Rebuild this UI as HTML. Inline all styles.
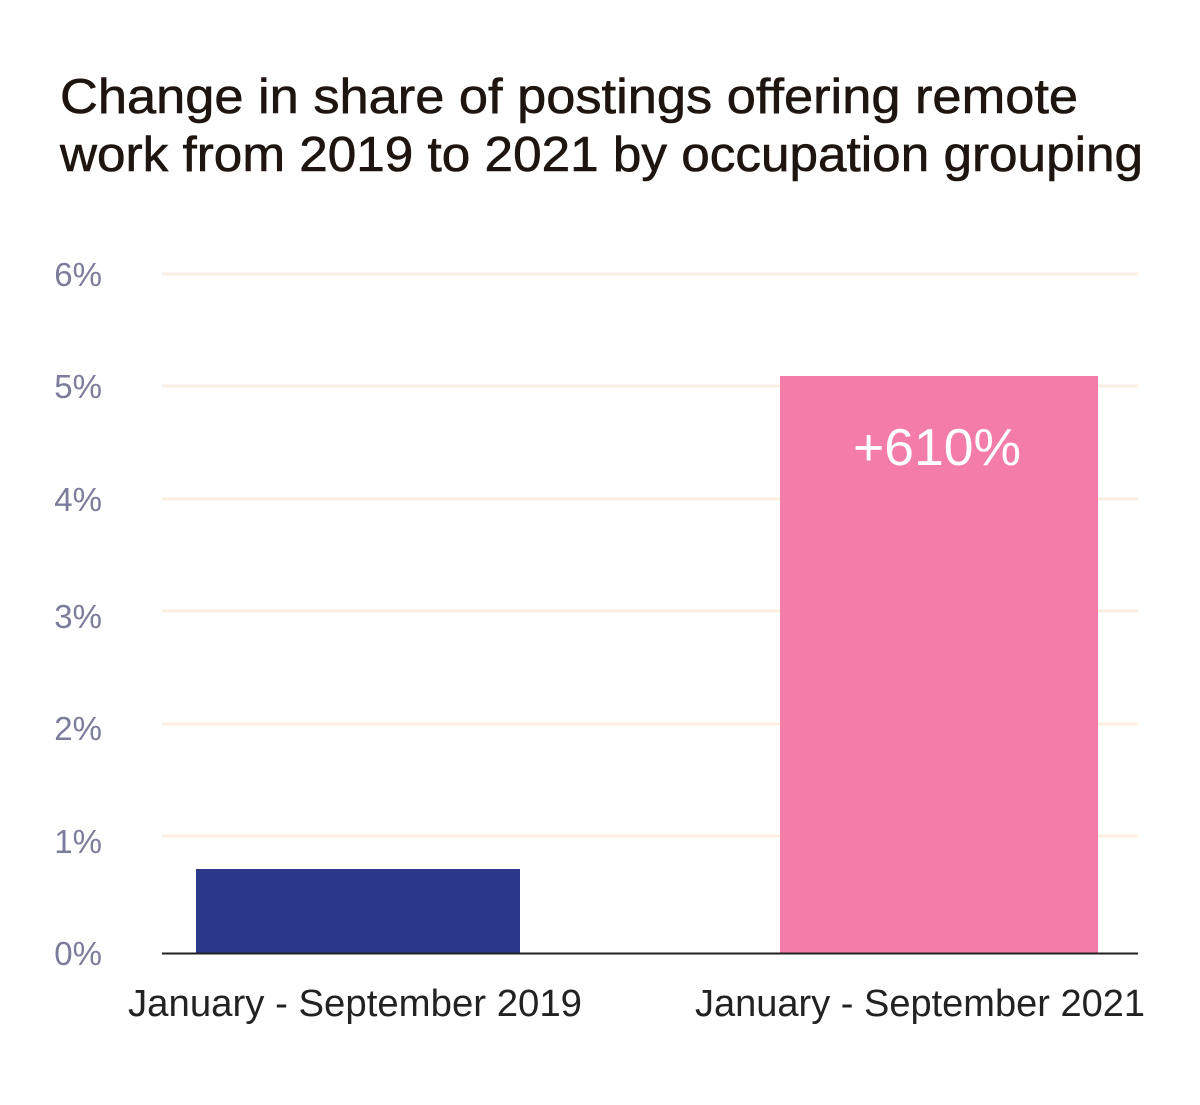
<!DOCTYPE html>
<html><head><meta charset="utf-8"><style>
html,body{margin:0;padding:0;background:#fff;}
body{width:1200px;height:1100px;position:relative;overflow:hidden;font-family:"Liberation Sans",sans-serif;}
</style></head><body>
<svg width="1200" height="1100" xmlns="http://www.w3.org/2000/svg">
<text x="60" y="113" font-family="Liberation Sans, sans-serif" font-size="49" fill="#1e1510" stroke="#1e1510" stroke-width="0.6" textLength="1018" lengthAdjust="spacingAndGlyphs">Change in share of postings offering remote</text>
<text x="60" y="171" font-family="Liberation Sans, sans-serif" font-size="49" fill="#1e1510" stroke="#1e1510" stroke-width="0.6" textLength="1083" lengthAdjust="spacingAndGlyphs">work from 2019 to 2021 by occupation grouping</text>
<g stroke="#fdeee2" stroke-width="3">
<line x1="162" x2="1138" y1="274" y2="274"/>
<line x1="162" x2="1138" y1="386" y2="386"/>
<line x1="162" x2="1138" y1="499" y2="499"/>
<line x1="162" x2="1138" y1="611" y2="611"/>
<line x1="162" x2="1138" y1="724" y2="724"/>
<line x1="162" x2="1138" y1="836" y2="836"/>
</g>
<g font-family="Liberation Sans, sans-serif" font-size="33" fill="#7c7c9c" text-anchor="end">
<text x="102" y="286">6%</text>
<text x="102" y="398">5%</text>
<text x="102" y="511">4%</text>
<text x="102" y="628">3%</text>
<text x="102" y="740">2%</text>
<text x="102" y="853">1%</text>
<text x="102" y="965">0%</text>
</g>
<rect x="196" y="869" width="324" height="84" fill="#2b3788"/>
<rect x="780" y="376" width="318" height="577" fill="#f37ca8"/>
<line x1="162" x2="1138" y1="953.5" y2="953.5" stroke="#222" stroke-width="2"/>
<text x="853" y="465" font-family="Liberation Sans, sans-serif" font-size="52" fill="#fff" textLength="168" lengthAdjust="spacingAndGlyphs">+610%</text>
<g font-family="Liberation Sans, sans-serif" font-size="38" fill="#222">
<text x="128" y="1016" textLength="454" lengthAdjust="spacingAndGlyphs">January - September 2019</text>
<text x="695" y="1016" textLength="450" lengthAdjust="spacingAndGlyphs">January - September 2021</text>
</g>
</svg>
</body></html>
